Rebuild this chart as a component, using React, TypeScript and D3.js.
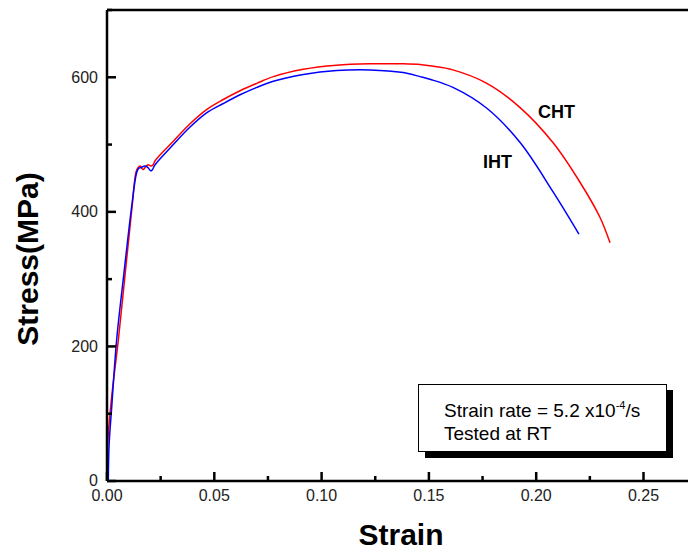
import React from "react";
import * as d3 from "d3";

const chtStrain = [0, 0.0003, 0.002, 0.0053, 0.0085, 0.0117, 0.0135, 0.0145, 0.0155, 0.0168, 0.018, 0.0191, 0.0205, 0.0215, 0.0224, 0.0309, 0.0387, 0.0464, 0.0542, 0.062, 0.0698, 0.0775, 0.0915, 0.107, 0.1226, 0.138, 0.1459, 0.1505, 0.1612, 0.177, 0.1925, 0.2078, 0.2204, 0.2297, 0.2344];
const chtStress = [0, 55, 120, 210, 309, 408, 459, 466, 468, 463, 467, 470, 468, 470, 476, 505, 531, 552, 567, 580, 591, 601, 612, 618, 620, 620, 619, 617, 611, 591, 555, 503, 444, 392, 354];

const ihtStrain = [0.0006, 0.001, 0.0022, 0.0045, 0.0079, 0.0115, 0.0138, 0.0148, 0.016, 0.0175, 0.019, 0.0203, 0.021, 0.0224, 0.0309, 0.0387, 0.0464, 0.0542, 0.062, 0.0698, 0.0775, 0.0915, 0.107, 0.1226, 0.138, 0.1459, 0.1505, 0.1612, 0.177, 0.1925, 0.2078, 0.2199];
const ihtStress = [0, 55, 110, 210, 309, 408, 458, 465, 466, 468, 466, 461, 462, 470, 500, 526, 547, 561, 574, 585, 594, 604, 610, 611, 607, 601, 597, 585, 554, 503, 430, 367];

const xTicks = [0, 0.05, 0.1, 0.15, 0.2, 0.25];
const xMinorTicks = [0.025, 0.075, 0.125, 0.175, 0.225, 0.275];
const yTicks = [0, 200, 400, 600];
const yMinorTicks = [100, 300, 500, 700];

const W = 688;
const H = 551;
const left = 107;
const top = 10;
const bottom = 481;

export default function App() {
  const x = d3.scaleLinear().domain([0, 0.28]).range([left, left + 0.28 * 2146]);
  const y = d3.scaleLinear().domain([0, 700]).range([bottom, top]);

  const line = d3
    .line<[number, number]>()
    .x((d) => x(d[0]))
    .y((d) => y(d[1]))
    .curve(d3.curveCatmullRom.alpha(0.5));

  const cht = chtStrain.map((s, i) => [s, chtStress[i]] as [number, number]);
  const iht = ihtStrain.map((s, i) => [s, ihtStress[i]] as [number, number]);

  const font = "Arial, 'Liberation Sans', sans-serif";

  return (
    <svg
      width={W}
      height={H}
      style={{ position: "absolute", left: 0, top: 0, display: "block", background: "#fff" }}
      fontFamily={font}
    >
      <defs>
        <clipPath id="plot">
          <rect x={left} y={top} width={W - left} height={bottom - top} />
        </clipPath>
      </defs>
      <rect x={0} y={0} width={W} height={H} fill="#fff" />

      <g clipPath="url(#plot)">
        <path d={line(cht) || ""} fill="none" stroke="#ff0000" strokeWidth={1.5} />
        <path d={line(iht) || ""} fill="none" stroke="#0000ff" strokeWidth={1.5} />
      </g>

      {/* frame */}
      <line x1={left} x2={W} y1={top} y2={top} stroke="#000" strokeWidth={2.5} />
      <line x1={left} x2={W} y1={bottom} y2={bottom} stroke="#000" strokeWidth={2.5} />
      <line x1={left} x2={left} y1={top} y2={bottom} stroke="#000" strokeWidth={2.5} />

      {/* x ticks */}
      {xTicks.map((t) => (
        <g key={"xt" + t}>
          <line x1={x(t)} x2={x(t)} y1={bottom} y2={bottom - 9} stroke="#000" strokeWidth={2.5} />
          <text x={x(t)} y={501} textAnchor="middle" fontSize={16} fill="#222">
            {t.toFixed(2)}
          </text>
        </g>
      ))}
      {xMinorTicks.map((t) => (
        <line key={"xm" + t} x1={x(t)} x2={x(t)} y1={bottom} y2={bottom - 5} stroke="#000" strokeWidth={2.5} />
      ))}
      {/* y ticks */}
      {yTicks.map((t) => (
        <g key={"yt" + t}>
          <line x1={left} x2={left + 9} y1={y(t)} y2={y(t)} stroke="#000" strokeWidth={2.5} />
          <text x={98} y={y(t)} dy="0.33em" textAnchor="end" fontSize={16} fill="#222">
            {t}
          </text>
        </g>
      ))}
      {yMinorTicks.map((t) => (
        <line key={"ym" + t} x1={left} x2={left + 5} y1={y(t)} y2={y(t)} stroke="#000" strokeWidth={2.5} />
      ))}

      {/* axis titles */}
      <text x={401} y={545} textAnchor="middle" fontSize={30} fontWeight="bold" fill="#000">
        Strain
      </text>
      <text
        transform={`translate(38, 259) rotate(-90)`}
        textAnchor="middle"
        fontSize={30}
        fontWeight="bold"
        fill="#000"
      >
        Stress(MPa)
      </text>

      {/* curve labels */}
      <text x={538} y={118} fontSize={18} fontWeight="bold" fill="#000">CHT</text>
      <text x={483} y={168} fontSize={18} fontWeight="bold" fill="#000">IHT</text>

      {/* annotation box */}
      <rect x={425} y={390} width={248} height={68} fill="#000" />
      <rect x={418.5} y={384.5} width={248} height={67} fill="#fff" stroke="#000" strokeWidth={1} />
      <text x={444} y={417} fontSize={19} fill="#000">
        Strain rate = 5.2 x10
        <tspan fontSize={11} dy={-8}>-4</tspan>
        <tspan dy={8}>/s</tspan>
      </text>
      <text x={444} y={440} fontSize={19} fill="#000">
        Tested at RT
      </text>
    </svg>
  );
}
